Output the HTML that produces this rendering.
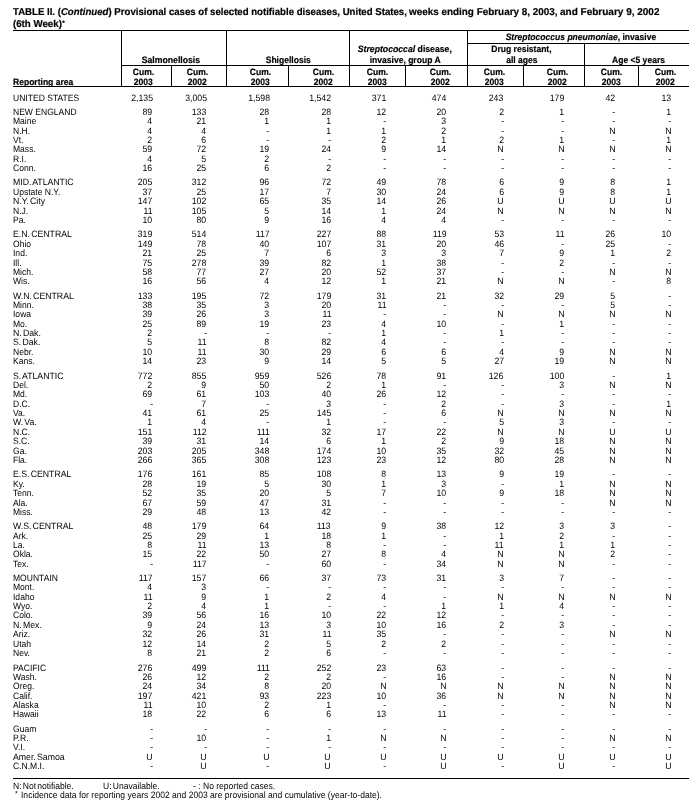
<!DOCTYPE html>
<html><head><meta charset="utf-8"><title>Table II</title>
<style>
html,body{margin:0;padding:0;background:#fff;}
body{width:700px;height:812px;position:relative;overflow:hidden;font-family:"Liberation Sans",Arial,Helvetica,sans-serif;color:#000;-webkit-font-smoothing:antialiased;text-rendering:geometricPrecision;}
.t{position:absolute;white-space:nowrap;font-weight:bold;font-size:10px;line-height:11px;transform:scaleX(0.97);transform-origin:0 0;-webkit-text-stroke:0.2px #000;}
.h{position:absolute;white-space:nowrap;font-weight:bold;font-size:9.2px;line-height:10px;text-align:center;width:200px;-webkit-text-stroke:0.2px #000;}
.h span{display:inline-block;transform:scaleX(0.93);transform-origin:50% 0;}
#w{position:absolute;left:0;top:0;width:700px;height:812px;will-change:transform;}
.hl{position:absolute;height:1px;background:#000;}
.vl{position:absolute;width:1px;background:#000;}
.r{position:absolute;left:0;width:700px;height:10px;font-size:9.2px;line-height:10px;}
.r i,.r b{position:absolute;top:0;font-style:normal;font-weight:normal;white-space:nowrap;display:inline-block;}
.r i{transform:scaleX(0.93);transform-origin:0 0;}
.r b{transform:scaleX(0.95);transform-origin:100% 0;}
.f{position:absolute;white-space:nowrap;font-size:9.2px;line-height:10px;transform:scaleX(0.93);transform-origin:0 0;}
</style></head><body><div id="w">
<div class="t" id="t1" style="left:13px;top:7px;transform:scaleX(0.962)">TABLE II. (<i>Continued</i>) Provisional cases of selected notifiable diseases, United States,</div>
<div class="t" id="t2" style="left:409.4px;top:7px;transform:scaleX(0.99)">weeks ending February 8, 2003,</div>
<div class="t" id="t3" style="left:560px;top:7px;transform:scaleX(1.0)">and February 9, 2002</div>
<div class="t" style="left:13px;top:18.6px">(6th Week)<span style="font-size:6.5px;position:relative;top:-2px;margin-left:0.3px">*</span></div>

<div class="hl" style="left:13px;width:676px;top:30px"></div>
<div class="hl" style="left:467px;width:222px;top:43px"></div>
<div class="hl" style="left:121px;width:568px;top:65px"></div>
<div class="hl" style="left:13px;width:676px;top:86px"></div>
<div class="vl" style="left:121px;top:30px;height:56px"></div>
<div class="vl" style="left:226px;top:30px;height:56px"></div>
<div class="vl" style="left:349px;top:30px;height:56px"></div>
<div class="vl" style="left:467px;top:30px;height:56px"></div>
<div class="vl" style="left:584px;top:43px;height:43px"></div>
<div class="vl" style="left:171px;top:65px;height:21px"></div>
<div class="vl" style="left:288px;top:65px;height:21px"></div>
<div class="vl" style="left:405px;top:65px;height:21px"></div>
<div class="vl" style="left:523px;top:65px;height:21px"></div>
<div class="vl" style="left:638px;top:65px;height:21px"></div>

<div class="h" style="left:13.3px;top:76.90px;width:auto;text-align:left"><span style="transform-origin:0 0">Reporting area</span></div>
<div class="h" style="left:71.0px;top:55.00px"><span style="transform:scaleX(0.945)">Salmonellosis</span></div>
<div class="h" style="left:188.0px;top:55.00px"><span>Shigellosis</span></div>
<div class="h" style="left:304.6px;top:43.50px"><span style="transform:scaleX(0.945)"><i>Streptococcal</i> disease,</span></div>
<div class="h" style="left:305.3px;top:55.00px"><span>invasive, group A</span></div>
<div class="h" style="left:481.2px;top:31.60px"><span><i>Streptococcus pneumoniae</i>, invasive</span></div>
<div class="h" style="left:421.5px;top:44.10px"><span>Drug resistant,</span></div>
<div class="h" style="left:421.8px;top:55.00px"><span>all ages</span></div>
<div class="h" style="left:538.7px;top:55.00px"><span>Age &lt;5 years</span></div>
<div class="h" style="left:43.6px;top:67.20px"><span>Cum.</span></div>
<div class="h" style="left:43.6px;top:76.60px"><span>2003</span></div>
<div class="h" style="left:97.5px;top:67.20px"><span>Cum.</span></div>
<div class="h" style="left:97.5px;top:76.60px"><span>2002</span></div>
<div class="h" style="left:160.7px;top:67.20px"><span>Cum.</span></div>
<div class="h" style="left:160.7px;top:76.60px"><span>2003</span></div>
<div class="h" style="left:223.6px;top:67.20px"><span>Cum.</span></div>
<div class="h" style="left:223.6px;top:76.60px"><span>2002</span></div>
<div class="h" style="left:277.6px;top:67.20px"><span>Cum.</span></div>
<div class="h" style="left:277.6px;top:76.60px"><span>2003</span></div>
<div class="h" style="left:340.5px;top:67.20px"><span>Cum.</span></div>
<div class="h" style="left:340.5px;top:76.60px"><span>2002</span></div>
<div class="h" style="left:394.3px;top:67.20px"><span>Cum.</span></div>
<div class="h" style="left:394.3px;top:76.60px"><span>2003</span></div>
<div class="h" style="left:457.7px;top:67.20px"><span>Cum.</span></div>
<div class="h" style="left:457.7px;top:76.60px"><span>2002</span></div>
<div class="h" style="left:511.5px;top:67.20px"><span>Cum.</span></div>
<div class="h" style="left:511.5px;top:76.60px"><span>2003</span></div>
<div class="h" style="left:565.6px;top:67.20px"><span>Cum.</span></div>
<div class="h" style="left:565.6px;top:76.60px"><span>2002</span></div>

<div class="r" style="top:93.00px"><i style="left:13px">UNITED STATES</i><b style="right:547.4px">2,135</b><b style="right:493.4px">3,005</b><b style="right:430.5px">1,598</b><b style="right:368.9px">1,542</b><b style="right:313.6px">371</b><b style="right:253.7px">474</b><b style="right:196.2px">243</b><b style="right:135.6px">179</b><b style="right:84.8px">42</b><b style="right:28.6px">13</b></div>
<div class="r" style="top:107.00px"><i style="left:13px">NEW ENGLAND</i><b style="right:547.4px">89</b><b style="right:493.4px">133</b><b style="right:430.5px">28</b><b style="right:368.9px">28</b><b style="right:313.6px">12</b><b style="right:253.7px">20</b><b style="right:196.2px">2</b><b style="right:135.6px">1</b><b style="right:84.8px">-</b><b style="right:28.6px">1</b></div>
<div class="r" style="top:116.00px"><i style="left:13px">Maine</i><b style="right:547.4px">4</b><b style="right:493.4px">21</b><b style="right:430.5px">1</b><b style="right:368.9px">1</b><b style="right:313.6px">-</b><b style="right:253.7px">3</b><b style="right:196.2px">-</b><b style="right:135.6px">-</b><b style="right:84.8px">-</b><b style="right:28.6px">-</b></div>
<div class="r" style="top:126.00px"><i style="left:13px">N.H.</i><b style="right:547.4px">4</b><b style="right:493.4px">4</b><b style="right:430.5px">-</b><b style="right:368.9px">1</b><b style="right:313.6px">1</b><b style="right:253.7px">2</b><b style="right:196.2px">-</b><b style="right:135.6px">-</b><b style="right:84.8px">N</b><b style="right:28.6px">N</b></div>
<div class="r" style="top:135.00px"><i style="left:13px">Vt.</i><b style="right:547.4px">2</b><b style="right:493.4px">6</b><b style="right:430.5px">-</b><b style="right:368.9px">-</b><b style="right:313.6px">2</b><b style="right:253.7px">1</b><b style="right:196.2px">2</b><b style="right:135.6px">1</b><b style="right:84.8px">-</b><b style="right:28.6px">1</b></div>
<div class="r" style="top:144.00px"><i style="left:13px">Mass.</i><b style="right:547.4px">59</b><b style="right:493.4px">72</b><b style="right:430.5px">19</b><b style="right:368.9px">24</b><b style="right:313.6px">9</b><b style="right:253.7px">14</b><b style="right:196.2px">N</b><b style="right:135.6px">N</b><b style="right:84.8px">N</b><b style="right:28.6px">N</b></div>
<div class="r" style="top:154.00px"><i style="left:13px">R.I.</i><b style="right:547.4px">4</b><b style="right:493.4px">5</b><b style="right:430.5px">2</b><b style="right:368.9px">-</b><b style="right:313.6px">-</b><b style="right:253.7px">-</b><b style="right:196.2px">-</b><b style="right:135.6px">-</b><b style="right:84.8px">-</b><b style="right:28.6px">-</b></div>
<div class="r" style="top:163.00px"><i style="left:13px">Conn.</i><b style="right:547.4px">16</b><b style="right:493.4px">25</b><b style="right:430.5px">6</b><b style="right:368.9px">2</b><b style="right:313.6px">-</b><b style="right:253.7px">-</b><b style="right:196.2px">-</b><b style="right:135.6px">-</b><b style="right:84.8px">-</b><b style="right:28.6px">-</b></div>
<div class="r" style="top:177.00px"><i style="left:13px;word-spacing:-1.3px;transform:scaleX(0.95)">MID. ATLANTIC</i><b style="right:547.4px">205</b><b style="right:493.4px">312</b><b style="right:430.5px">96</b><b style="right:368.9px">72</b><b style="right:313.6px">49</b><b style="right:253.7px">78</b><b style="right:196.2px">6</b><b style="right:135.6px">9</b><b style="right:84.8px">8</b><b style="right:28.6px">1</b></div>
<div class="r" style="top:187.00px"><i style="left:13px">Upstate N.Y.</i><b style="right:547.4px">37</b><b style="right:493.4px">25</b><b style="right:430.5px">17</b><b style="right:368.9px">7</b><b style="right:313.6px">30</b><b style="right:253.7px">24</b><b style="right:196.2px">6</b><b style="right:135.6px">9</b><b style="right:84.8px">8</b><b style="right:28.6px">1</b></div>
<div class="r" style="top:196.00px"><i style="left:13px;word-spacing:-1.3px;transform:scaleX(0.95)">N.Y. City</i><b style="right:547.4px">147</b><b style="right:493.4px">102</b><b style="right:430.5px">65</b><b style="right:368.9px">35</b><b style="right:313.6px">14</b><b style="right:253.7px">26</b><b style="right:196.2px">U</b><b style="right:135.6px">U</b><b style="right:84.8px">U</b><b style="right:28.6px">U</b></div>
<div class="r" style="top:206.00px"><i style="left:13px">N.J.</i><b style="right:547.4px">11</b><b style="right:493.4px">105</b><b style="right:430.5px">5</b><b style="right:368.9px">14</b><b style="right:313.6px">1</b><b style="right:253.7px">24</b><b style="right:196.2px">N</b><b style="right:135.6px">N</b><b style="right:84.8px">N</b><b style="right:28.6px">N</b></div>
<div class="r" style="top:215.00px"><i style="left:13px">Pa.</i><b style="right:547.4px">10</b><b style="right:493.4px">80</b><b style="right:430.5px">9</b><b style="right:368.9px">16</b><b style="right:313.6px">4</b><b style="right:253.7px">4</b><b style="right:196.2px">-</b><b style="right:135.6px">-</b><b style="right:84.8px">-</b><b style="right:28.6px">-</b></div>
<div class="r" style="top:229.00px"><i style="left:13px;word-spacing:-1.3px;transform:scaleX(0.95)">E.N. CENTRAL</i><b style="right:547.4px">319</b><b style="right:493.4px">514</b><b style="right:430.5px">117</b><b style="right:368.9px">227</b><b style="right:313.6px">88</b><b style="right:253.7px">119</b><b style="right:196.2px">53</b><b style="right:135.6px">11</b><b style="right:84.8px">26</b><b style="right:28.6px">10</b></div>
<div class="r" style="top:239.00px"><i style="left:13px">Ohio</i><b style="right:547.4px">149</b><b style="right:493.4px">78</b><b style="right:430.5px">40</b><b style="right:368.9px">107</b><b style="right:313.6px">31</b><b style="right:253.7px">20</b><b style="right:196.2px">46</b><b style="right:135.6px">-</b><b style="right:84.8px">25</b><b style="right:28.6px">-</b></div>
<div class="r" style="top:248.00px"><i style="left:13px">Ind.</i><b style="right:547.4px">21</b><b style="right:493.4px">25</b><b style="right:430.5px">7</b><b style="right:368.9px">6</b><b style="right:313.6px">3</b><b style="right:253.7px">3</b><b style="right:196.2px">7</b><b style="right:135.6px">9</b><b style="right:84.8px">1</b><b style="right:28.6px">2</b></div>
<div class="r" style="top:258.00px"><i style="left:13px">Ill.</i><b style="right:547.4px">75</b><b style="right:493.4px">278</b><b style="right:430.5px">39</b><b style="right:368.9px">82</b><b style="right:313.6px">1</b><b style="right:253.7px">38</b><b style="right:196.2px">-</b><b style="right:135.6px">2</b><b style="right:84.8px">-</b><b style="right:28.6px">-</b></div>
<div class="r" style="top:267.00px"><i style="left:13px">Mich.</i><b style="right:547.4px">58</b><b style="right:493.4px">77</b><b style="right:430.5px">27</b><b style="right:368.9px">20</b><b style="right:313.6px">52</b><b style="right:253.7px">37</b><b style="right:196.2px">-</b><b style="right:135.6px">-</b><b style="right:84.8px">N</b><b style="right:28.6px">N</b></div>
<div class="r" style="top:276.00px"><i style="left:13px">Wis.</i><b style="right:547.4px">16</b><b style="right:493.4px">56</b><b style="right:430.5px">4</b><b style="right:368.9px">12</b><b style="right:313.6px">1</b><b style="right:253.7px">21</b><b style="right:196.2px">N</b><b style="right:135.6px">N</b><b style="right:84.8px">-</b><b style="right:28.6px">8</b></div>
<div class="r" style="top:291.00px"><i style="left:13px;word-spacing:-1.3px;transform:scaleX(0.95)">W.N. CENTRAL</i><b style="right:547.4px">133</b><b style="right:493.4px">195</b><b style="right:430.5px">72</b><b style="right:368.9px">179</b><b style="right:313.6px">31</b><b style="right:253.7px">21</b><b style="right:196.2px">32</b><b style="right:135.6px">29</b><b style="right:84.8px">5</b><b style="right:28.6px">-</b></div>
<div class="r" style="top:300.00px"><i style="left:13px">Minn.</i><b style="right:547.4px">38</b><b style="right:493.4px">35</b><b style="right:430.5px">3</b><b style="right:368.9px">20</b><b style="right:313.6px">11</b><b style="right:253.7px">-</b><b style="right:196.2px">-</b><b style="right:135.6px">-</b><b style="right:84.8px">5</b><b style="right:28.6px">-</b></div>
<div class="r" style="top:309.00px"><i style="left:13px">Iowa</i><b style="right:547.4px">39</b><b style="right:493.4px">26</b><b style="right:430.5px">3</b><b style="right:368.9px">11</b><b style="right:313.6px">-</b><b style="right:253.7px">-</b><b style="right:196.2px">N</b><b style="right:135.6px">N</b><b style="right:84.8px">N</b><b style="right:28.6px">N</b></div>
<div class="r" style="top:319.00px"><i style="left:13px">Mo.</i><b style="right:547.4px">25</b><b style="right:493.4px">89</b><b style="right:430.5px">19</b><b style="right:368.9px">23</b><b style="right:313.6px">4</b><b style="right:253.7px">10</b><b style="right:196.2px">-</b><b style="right:135.6px">1</b><b style="right:84.8px">-</b><b style="right:28.6px">-</b></div>
<div class="r" style="top:328.00px"><i style="left:13px;word-spacing:-1.3px;transform:scaleX(0.95)">N. Dak.</i><b style="right:547.4px">2</b><b style="right:493.4px">-</b><b style="right:430.5px">-</b><b style="right:368.9px">-</b><b style="right:313.6px">1</b><b style="right:253.7px">-</b><b style="right:196.2px">1</b><b style="right:135.6px">-</b><b style="right:84.8px">-</b><b style="right:28.6px">-</b></div>
<div class="r" style="top:337.00px"><i style="left:13px;word-spacing:-1.3px;transform:scaleX(0.95)">S. Dak.</i><b style="right:547.4px">5</b><b style="right:493.4px">11</b><b style="right:430.5px">8</b><b style="right:368.9px">82</b><b style="right:313.6px">4</b><b style="right:253.7px">-</b><b style="right:196.2px">-</b><b style="right:135.6px">-</b><b style="right:84.8px">-</b><b style="right:28.6px">-</b></div>
<div class="r" style="top:347.00px"><i style="left:13px">Nebr.</i><b style="right:547.4px">10</b><b style="right:493.4px">11</b><b style="right:430.5px">30</b><b style="right:368.9px">29</b><b style="right:313.6px">6</b><b style="right:253.7px">6</b><b style="right:196.2px">4</b><b style="right:135.6px">9</b><b style="right:84.8px">N</b><b style="right:28.6px">N</b></div>
<div class="r" style="top:356.00px"><i style="left:13px">Kans.</i><b style="right:547.4px">14</b><b style="right:493.4px">23</b><b style="right:430.5px">9</b><b style="right:368.9px">14</b><b style="right:313.6px">5</b><b style="right:253.7px">5</b><b style="right:196.2px">27</b><b style="right:135.6px">19</b><b style="right:84.8px">N</b><b style="right:28.6px">N</b></div>
<div class="r" style="top:371.00px"><i style="left:13px;word-spacing:-1.3px;transform:scaleX(0.95)">S. ATLANTIC</i><b style="right:547.4px">772</b><b style="right:493.4px">855</b><b style="right:430.5px">959</b><b style="right:368.9px">526</b><b style="right:313.6px">78</b><b style="right:253.7px">91</b><b style="right:196.2px">126</b><b style="right:135.6px">100</b><b style="right:84.8px">-</b><b style="right:28.6px">1</b></div>
<div class="r" style="top:380.00px"><i style="left:13px">Del.</i><b style="right:547.4px">2</b><b style="right:493.4px">9</b><b style="right:430.5px">50</b><b style="right:368.9px">2</b><b style="right:313.6px">1</b><b style="right:253.7px">-</b><b style="right:196.2px">-</b><b style="right:135.6px">3</b><b style="right:84.8px">N</b><b style="right:28.6px">N</b></div>
<div class="r" style="top:389.00px"><i style="left:13px">Md.</i><b style="right:547.4px">69</b><b style="right:493.4px">61</b><b style="right:430.5px">103</b><b style="right:368.9px">40</b><b style="right:313.6px">26</b><b style="right:253.7px">12</b><b style="right:196.2px">-</b><b style="right:135.6px">-</b><b style="right:84.8px">-</b><b style="right:28.6px">-</b></div>
<div class="r" style="top:399.00px"><i style="left:13px">D.C.</i><b style="right:547.4px">-</b><b style="right:493.4px">7</b><b style="right:430.5px">-</b><b style="right:368.9px">3</b><b style="right:313.6px">-</b><b style="right:253.7px">2</b><b style="right:196.2px">-</b><b style="right:135.6px">3</b><b style="right:84.8px">-</b><b style="right:28.6px">1</b></div>
<div class="r" style="top:408.00px"><i style="left:13px">Va.</i><b style="right:547.4px">41</b><b style="right:493.4px">61</b><b style="right:430.5px">25</b><b style="right:368.9px">145</b><b style="right:313.6px">-</b><b style="right:253.7px">6</b><b style="right:196.2px">N</b><b style="right:135.6px">N</b><b style="right:84.8px">N</b><b style="right:28.6px">N</b></div>
<div class="r" style="top:417.00px"><i style="left:13px;word-spacing:-1.3px;transform:scaleX(0.95)">W. Va.</i><b style="right:547.4px">1</b><b style="right:493.4px">4</b><b style="right:430.5px">-</b><b style="right:368.9px">1</b><b style="right:313.6px">-</b><b style="right:253.7px">-</b><b style="right:196.2px">5</b><b style="right:135.6px">3</b><b style="right:84.8px">-</b><b style="right:28.6px">-</b></div>
<div class="r" style="top:427.00px"><i style="left:13px">N.C.</i><b style="right:547.4px">151</b><b style="right:493.4px">112</b><b style="right:430.5px">111</b><b style="right:368.9px">32</b><b style="right:313.6px">17</b><b style="right:253.7px">22</b><b style="right:196.2px">N</b><b style="right:135.6px">N</b><b style="right:84.8px">U</b><b style="right:28.6px">U</b></div>
<div class="r" style="top:436.00px"><i style="left:13px">S.C.</i><b style="right:547.4px">39</b><b style="right:493.4px">31</b><b style="right:430.5px">14</b><b style="right:368.9px">6</b><b style="right:313.6px">1</b><b style="right:253.7px">2</b><b style="right:196.2px">9</b><b style="right:135.6px">18</b><b style="right:84.8px">N</b><b style="right:28.6px">N</b></div>
<div class="r" style="top:446.00px"><i style="left:13px">Ga.</i><b style="right:547.4px">203</b><b style="right:493.4px">205</b><b style="right:430.5px">348</b><b style="right:368.9px">174</b><b style="right:313.6px">10</b><b style="right:253.7px">35</b><b style="right:196.2px">32</b><b style="right:135.6px">45</b><b style="right:84.8px">N</b><b style="right:28.6px">N</b></div>
<div class="r" style="top:455.00px"><i style="left:13px">Fla.</i><b style="right:547.4px">266</b><b style="right:493.4px">365</b><b style="right:430.5px">308</b><b style="right:368.9px">123</b><b style="right:313.6px">23</b><b style="right:253.7px">12</b><b style="right:196.2px">80</b><b style="right:135.6px">28</b><b style="right:84.8px">N</b><b style="right:28.6px">N</b></div>
<div class="r" style="top:469.00px"><i style="left:13px;word-spacing:-1.3px;transform:scaleX(0.95)">E.S. CENTRAL</i><b style="right:547.4px">176</b><b style="right:493.4px">161</b><b style="right:430.5px">85</b><b style="right:368.9px">108</b><b style="right:313.6px">8</b><b style="right:253.7px">13</b><b style="right:196.2px">9</b><b style="right:135.6px">19</b><b style="right:84.8px">-</b><b style="right:28.6px">-</b></div>
<div class="r" style="top:479.00px"><i style="left:13px">Ky.</i><b style="right:547.4px">28</b><b style="right:493.4px">19</b><b style="right:430.5px">5</b><b style="right:368.9px">30</b><b style="right:313.6px">1</b><b style="right:253.7px">3</b><b style="right:196.2px">-</b><b style="right:135.6px">1</b><b style="right:84.8px">N</b><b style="right:28.6px">N</b></div>
<div class="r" style="top:488.00px"><i style="left:13px">Tenn.</i><b style="right:547.4px">52</b><b style="right:493.4px">35</b><b style="right:430.5px">20</b><b style="right:368.9px">5</b><b style="right:313.6px">7</b><b style="right:253.7px">10</b><b style="right:196.2px">9</b><b style="right:135.6px">18</b><b style="right:84.8px">N</b><b style="right:28.6px">N</b></div>
<div class="r" style="top:498.00px"><i style="left:13px">Ala.</i><b style="right:547.4px">67</b><b style="right:493.4px">59</b><b style="right:430.5px">47</b><b style="right:368.9px">31</b><b style="right:313.6px">-</b><b style="right:253.7px">-</b><b style="right:196.2px">-</b><b style="right:135.6px">-</b><b style="right:84.8px">N</b><b style="right:28.6px">N</b></div>
<div class="r" style="top:507.00px"><i style="left:13px">Miss.</i><b style="right:547.4px">29</b><b style="right:493.4px">48</b><b style="right:430.5px">13</b><b style="right:368.9px">42</b><b style="right:313.6px">-</b><b style="right:253.7px">-</b><b style="right:196.2px">-</b><b style="right:135.6px">-</b><b style="right:84.8px">-</b><b style="right:28.6px">-</b></div>
<div class="r" style="top:521.00px"><i style="left:13px;word-spacing:-1.3px;transform:scaleX(0.95)">W.S. CENTRAL</i><b style="right:547.4px">48</b><b style="right:493.4px">179</b><b style="right:430.5px">64</b><b style="right:368.9px">113</b><b style="right:313.6px">9</b><b style="right:253.7px">38</b><b style="right:196.2px">12</b><b style="right:135.6px">3</b><b style="right:84.8px">3</b><b style="right:28.6px">-</b></div>
<div class="r" style="top:531.00px"><i style="left:13px">Ark.</i><b style="right:547.4px">25</b><b style="right:493.4px">29</b><b style="right:430.5px">1</b><b style="right:368.9px">18</b><b style="right:313.6px">1</b><b style="right:253.7px">-</b><b style="right:196.2px">1</b><b style="right:135.6px">2</b><b style="right:84.8px">-</b><b style="right:28.6px">-</b></div>
<div class="r" style="top:540.00px"><i style="left:13px">La.</i><b style="right:547.4px">8</b><b style="right:493.4px">11</b><b style="right:430.5px">13</b><b style="right:368.9px">8</b><b style="right:313.6px">-</b><b style="right:253.7px">-</b><b style="right:196.2px">11</b><b style="right:135.6px">1</b><b style="right:84.8px">1</b><b style="right:28.6px">-</b></div>
<div class="r" style="top:549.00px"><i style="left:13px">Okla.</i><b style="right:547.4px">15</b><b style="right:493.4px">22</b><b style="right:430.5px">50</b><b style="right:368.9px">27</b><b style="right:313.6px">8</b><b style="right:253.7px">4</b><b style="right:196.2px">N</b><b style="right:135.6px">N</b><b style="right:84.8px">2</b><b style="right:28.6px">-</b></div>
<div class="r" style="top:559.00px"><i style="left:13px">Tex.</i><b style="right:547.4px">-</b><b style="right:493.4px">117</b><b style="right:430.5px">-</b><b style="right:368.9px">60</b><b style="right:313.6px">-</b><b style="right:253.7px">34</b><b style="right:196.2px">N</b><b style="right:135.6px">N</b><b style="right:84.8px">-</b><b style="right:28.6px">-</b></div>
<div class="r" style="top:573.00px"><i style="left:13px">MOUNTAIN</i><b style="right:547.4px">117</b><b style="right:493.4px">157</b><b style="right:430.5px">66</b><b style="right:368.9px">37</b><b style="right:313.6px">73</b><b style="right:253.7px">31</b><b style="right:196.2px">3</b><b style="right:135.6px">7</b><b style="right:84.8px">-</b><b style="right:28.6px">-</b></div>
<div class="r" style="top:582.00px"><i style="left:13px">Mont.</i><b style="right:547.4px">4</b><b style="right:493.4px">3</b><b style="right:430.5px">-</b><b style="right:368.9px">-</b><b style="right:313.6px">-</b><b style="right:253.7px">-</b><b style="right:196.2px">-</b><b style="right:135.6px">-</b><b style="right:84.8px">-</b><b style="right:28.6px">-</b></div>
<div class="r" style="top:592.00px"><i style="left:13px">Idaho</i><b style="right:547.4px">11</b><b style="right:493.4px">9</b><b style="right:430.5px">1</b><b style="right:368.9px">2</b><b style="right:313.6px">4</b><b style="right:253.7px">-</b><b style="right:196.2px">N</b><b style="right:135.6px">N</b><b style="right:84.8px">N</b><b style="right:28.6px">N</b></div>
<div class="r" style="top:601.00px"><i style="left:13px">Wyo.</i><b style="right:547.4px">2</b><b style="right:493.4px">4</b><b style="right:430.5px">1</b><b style="right:368.9px">-</b><b style="right:313.6px">-</b><b style="right:253.7px">1</b><b style="right:196.2px">1</b><b style="right:135.6px">4</b><b style="right:84.8px">-</b><b style="right:28.6px">-</b></div>
<div class="r" style="top:610.00px"><i style="left:13px">Colo.</i><b style="right:547.4px">39</b><b style="right:493.4px">56</b><b style="right:430.5px">16</b><b style="right:368.9px">10</b><b style="right:313.6px">22</b><b style="right:253.7px">12</b><b style="right:196.2px">-</b><b style="right:135.6px">-</b><b style="right:84.8px">-</b><b style="right:28.6px">-</b></div>
<div class="r" style="top:620.00px"><i style="left:13px;word-spacing:-1.3px;transform:scaleX(0.95)">N. Mex.</i><b style="right:547.4px">9</b><b style="right:493.4px">24</b><b style="right:430.5px">13</b><b style="right:368.9px">3</b><b style="right:313.6px">10</b><b style="right:253.7px">16</b><b style="right:196.2px">2</b><b style="right:135.6px">3</b><b style="right:84.8px">-</b><b style="right:28.6px">-</b></div>
<div class="r" style="top:629.00px"><i style="left:13px">Ariz.</i><b style="right:547.4px">32</b><b style="right:493.4px">26</b><b style="right:430.5px">31</b><b style="right:368.9px">11</b><b style="right:313.6px">35</b><b style="right:253.7px">-</b><b style="right:196.2px">-</b><b style="right:135.6px">-</b><b style="right:84.8px">N</b><b style="right:28.6px">N</b></div>
<div class="r" style="top:639.00px"><i style="left:13px">Utah</i><b style="right:547.4px">12</b><b style="right:493.4px">14</b><b style="right:430.5px">2</b><b style="right:368.9px">5</b><b style="right:313.6px">2</b><b style="right:253.7px">2</b><b style="right:196.2px">-</b><b style="right:135.6px">-</b><b style="right:84.8px">-</b><b style="right:28.6px">-</b></div>
<div class="r" style="top:648.00px"><i style="left:13px">Nev.</i><b style="right:547.4px">8</b><b style="right:493.4px">21</b><b style="right:430.5px">2</b><b style="right:368.9px">6</b><b style="right:313.6px">-</b><b style="right:253.7px">-</b><b style="right:196.2px">-</b><b style="right:135.6px">-</b><b style="right:84.8px">-</b><b style="right:28.6px">-</b></div>
<div class="r" style="top:663.00px"><i style="left:13px">PACIFIC</i><b style="right:547.4px">276</b><b style="right:493.4px">499</b><b style="right:430.5px">111</b><b style="right:368.9px">252</b><b style="right:313.6px">23</b><b style="right:253.7px">63</b><b style="right:196.2px">-</b><b style="right:135.6px">-</b><b style="right:84.8px">-</b><b style="right:28.6px">-</b></div>
<div class="r" style="top:672.00px"><i style="left:13px">Wash.</i><b style="right:547.4px">26</b><b style="right:493.4px">12</b><b style="right:430.5px">2</b><b style="right:368.9px">2</b><b style="right:313.6px">-</b><b style="right:253.7px">16</b><b style="right:196.2px">-</b><b style="right:135.6px">-</b><b style="right:84.8px">N</b><b style="right:28.6px">N</b></div>
<div class="r" style="top:681.00px"><i style="left:13px">Oreg.</i><b style="right:547.4px">24</b><b style="right:493.4px">34</b><b style="right:430.5px">8</b><b style="right:368.9px">20</b><b style="right:313.6px">N</b><b style="right:253.7px">N</b><b style="right:196.2px">N</b><b style="right:135.6px">N</b><b style="right:84.8px">N</b><b style="right:28.6px">N</b></div>
<div class="r" style="top:691.00px"><i style="left:13px">Calif.</i><b style="right:547.4px">197</b><b style="right:493.4px">421</b><b style="right:430.5px">93</b><b style="right:368.9px">223</b><b style="right:313.6px">10</b><b style="right:253.7px">36</b><b style="right:196.2px">N</b><b style="right:135.6px">N</b><b style="right:84.8px">N</b><b style="right:28.6px">N</b></div>
<div class="r" style="top:700.00px"><i style="left:13px">Alaska</i><b style="right:547.4px">11</b><b style="right:493.4px">10</b><b style="right:430.5px">2</b><b style="right:368.9px">1</b><b style="right:313.6px">-</b><b style="right:253.7px">-</b><b style="right:196.2px">-</b><b style="right:135.6px">-</b><b style="right:84.8px">N</b><b style="right:28.6px">N</b></div>
<div class="r" style="top:709.00px"><i style="left:13px">Hawaii</i><b style="right:547.4px">18</b><b style="right:493.4px">22</b><b style="right:430.5px">6</b><b style="right:368.9px">6</b><b style="right:313.6px">13</b><b style="right:253.7px">11</b><b style="right:196.2px">-</b><b style="right:135.6px">-</b><b style="right:84.8px">-</b><b style="right:28.6px">-</b></div>
<div class="r" style="top:724.00px"><i style="left:13px">Guam</i><b style="right:547.4px">-</b><b style="right:493.4px">-</b><b style="right:430.5px">-</b><b style="right:368.9px">-</b><b style="right:313.6px">-</b><b style="right:253.7px">-</b><b style="right:196.2px">-</b><b style="right:135.6px">-</b><b style="right:84.8px">-</b><b style="right:28.6px">-</b></div>
<div class="r" style="top:733.00px"><i style="left:13px">P.R.</i><b style="right:547.4px">-</b><b style="right:493.4px">10</b><b style="right:430.5px">-</b><b style="right:368.9px">1</b><b style="right:313.6px">N</b><b style="right:253.7px">N</b><b style="right:196.2px">-</b><b style="right:135.6px">-</b><b style="right:84.8px">N</b><b style="right:28.6px">N</b></div>
<div class="r" style="top:742.00px"><i style="left:13px">V.I.</i><b style="right:547.4px">-</b><b style="right:493.4px">-</b><b style="right:430.5px">-</b><b style="right:368.9px">-</b><b style="right:313.6px">-</b><b style="right:253.7px">-</b><b style="right:196.2px">-</b><b style="right:135.6px">-</b><b style="right:84.8px">-</b><b style="right:28.6px">-</b></div>
<div class="r" style="top:752.00px"><i style="left:13px;word-spacing:-1.3px;transform:scaleX(0.95)">Amer. Samoa</i><b style="right:547.4px">U</b><b style="right:493.4px">U</b><b style="right:430.5px">U</b><b style="right:368.9px">U</b><b style="right:313.6px">U</b><b style="right:253.7px">U</b><b style="right:196.2px">U</b><b style="right:135.6px">U</b><b style="right:84.8px">U</b><b style="right:28.6px">U</b></div>
<div class="r" style="top:761.00px"><i style="left:13px">C.N.M.I.</i><b style="right:547.4px">-</b><b style="right:493.4px">U</b><b style="right:430.5px">-</b><b style="right:368.9px">U</b><b style="right:313.6px">-</b><b style="right:253.7px">U</b><b style="right:196.2px">-</b><b style="right:135.6px">U</b><b style="right:84.8px">-</b><b style="right:28.6px">U</b></div>

<div class="hl" style="left:13px;width:676px;top:778px"></div>
<div class="f" style="left:13px;top:780.5px;word-spacing:-1.3px">N: Not notifiable.</div>
<div class="f" style="left:102.9px;top:780.5px;word-spacing:-1.3px">U: Unavailable.</div>
<div class="f" style="left:193.2px;top:780.5px">- : No reported cases.</div>
<div class="f" style="left:14.9px;top:788.5px;font-size:7.5px">*</div>
<div class="f" style="left:21.4px;top:789.5px">Incidence data for reporting years 2002 and 2003 are provisional and cumulative (year-to-date).</div>
</div></body></html>
